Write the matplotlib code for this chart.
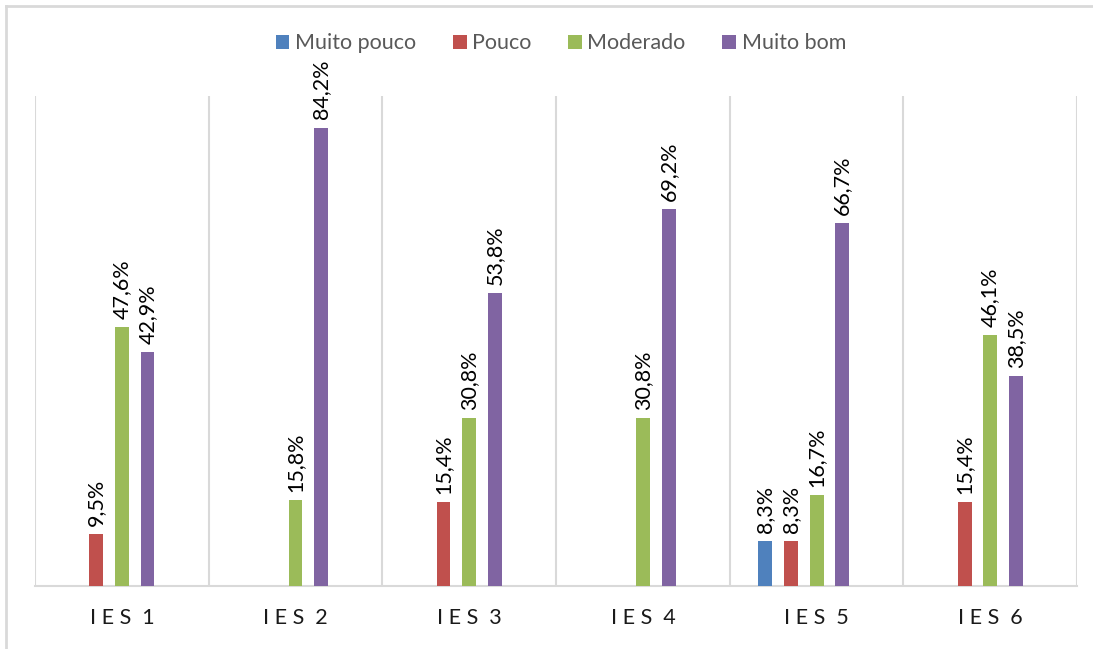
import numpy as np
import matplotlib
matplotlib.use("Agg")
import matplotlib.pyplot as plt
from matplotlib.lines import Line2D

plt.rcParams['font.family'] = ['Lato', 'DejaVu Sans']

# dados
categorias = ['I E S  1', 'I E S  2', 'I E S  3', 'I E S  4', 'I E S  5', 'I E S  6']
series = ['Muito pouco', 'Pouco', 'Moderado', 'Muito bom']
muito_pouco = [0, 0, 0, 0, 8.3, 0]
pouco = [9.5, 0, 15.4, 0, 8.3, 15.4]
moderado = [47.6, 15.8, 30.8, 30.8, 16.7, 46.1]
muito_bom = [42.9, 84.2, 53.8, 69.2, 66.7, 38.5]
cores = ['#4F81BD', '#C0504D', '#9BBB59', '#8064A2']

valores = [muito_pouco, pouco, moderado, muito_bom]

fig = plt.figure(figsize=(10.93, 6.49), dpi=100)
ax = fig.add_axes([0.032, 0.097, 0.9535, 0.755])

x = np.arange(len(categorias))
passo = 0.148
largura = 0.08
for i, (nome, vals, cor) in enumerate(zip(series, valores, cores)):
    # o grupo fica deslocado: a barra "Moderado" cai no centro da categoria
    pos = x + (i - 2) * passo
    barras = ax.bar(pos, vals, width=largura, color=cor, label=nome, zorder=3)
    for b, v in zip(barras, vals):
        if v > 0:
            ax.annotate(f'{v:.1f}%'.replace('.', ','),
                        (b.get_x() + b.get_width() / 2, v),
                        xytext=(0, 6), textcoords='offset points',
                        rotation=90, ha='center', va='bottom',
                        fontsize=15.5, color='#000000')

ax.set_xlim(-0.5, len(categorias) - 0.5)
ax.set_ylim(0, 90)
ax.set_yticks([])
ax.set_xticks(x)
ax.set_xticklabels(categorias, fontsize=15.5, color='#1a1a1a')
ax.tick_params(axis='x', length=0, pad=16)

# linhas verticais entre categorias
for sep in np.arange(-0.5, len(categorias), 1.0):
    ax.axvline(sep, color='#D9D9D9', lw=1.5, zorder=1)
for s in ['top', 'left', 'right']:
    ax.spines[s].set_visible(False)
ax.spines['bottom'].set_color('#D9D9D9')
ax.spines['bottom'].set_linewidth(1.5)

leg = fig.legend(loc='center', bbox_to_anchor=(0.513, 0.933), ncol=4, frameon=False,
                 fontsize=15.5, handlelength=0.65, handleheight=0.65, handletextpad=0.25,
                 columnspacing=1.7)
for t in leg.get_texts():
    t.set_color('#595959')

# borda do gráfico
fig.add_artist(Line2D([0.0055, 1.0], [0.991, 0.991], color='#D9D9D9', lw=2))
fig.add_artist(Line2D([0.0055, 0.0055], [0.0, 0.991], color='#D9D9D9', lw=2))

fig.savefig('out.png', dpi=100)
